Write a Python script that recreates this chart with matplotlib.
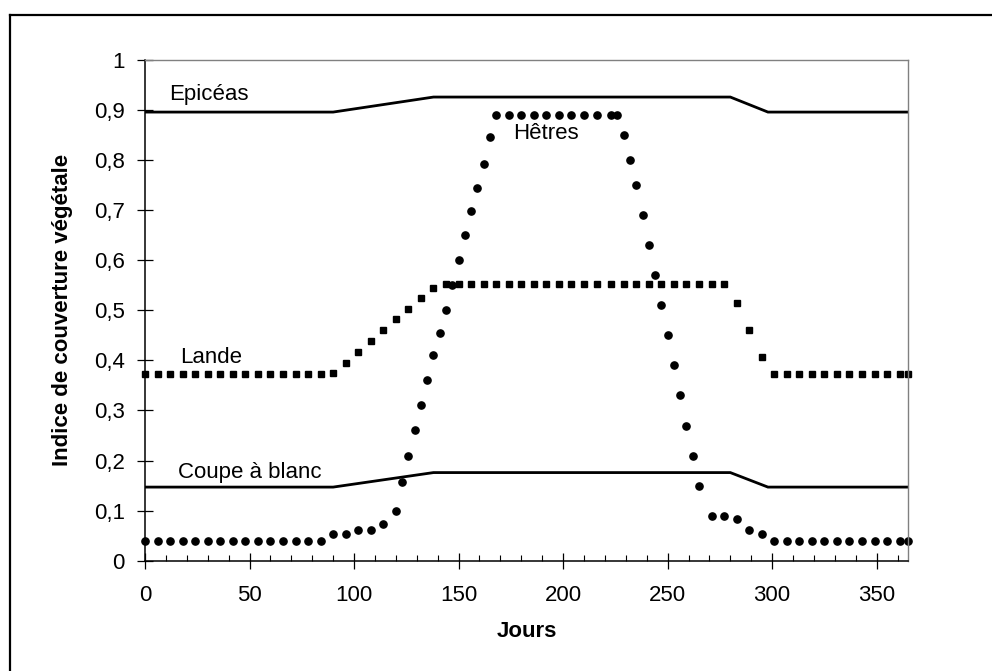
import matplotlib.pyplot as plt
from matplotlib.lines import Line2D
import numpy as np

plt.rcParams['font.family'] = ['Liberation Sans', 'DejaVu Sans']

# --- data (jours / indice) ---
days_epiceas = [0, 90, 138, 280, 298, 365]
epiceas = [0.896, 0.896, 0.926, 0.926, 0.896, 0.896]

days_coupe = [0, 90, 138, 280, 298, 365]
coupe = [0.147, 0.147, 0.176, 0.176, 0.147, 0.147]

days_lande = list(range(0, 217, 6)) + list(range(223, 362, 6)) + [365]
lande = ([0.372] * 15 + [0.375, 0.395, 0.417, 0.439, 0.460, 0.482, 0.502, 0.524, 0.545]
         + [0.552] * 23 + [0.514, 0.461, 0.407] + [0.372] * 12)

days_hetres = (list(range(0, 121, 6)) + list(range(123, 169, 3)) + list(range(174, 217, 6))
               + [223, 226] + list(range(229, 266, 3)) + list(range(271, 362, 6)) + [365])
hetres = ([0.04] * 15 + [0.053, 0.053, 0.061, 0.061, 0.073, 0.10]
          + [0.158, 0.21, 0.262, 0.31, 0.36, 0.41, 0.454, 0.50, 0.55, 0.60, 0.65, 0.698,
             0.744, 0.792, 0.846, 0.89]
          + [0.89] * 10
          + [0.85, 0.80, 0.75, 0.69, 0.63, 0.57, 0.51, 0.45, 0.39, 0.33, 0.27, 0.21, 0.15]
          + [0.09, 0.09, 0.083, 0.061, 0.053] + [0.04] * 12)

x_ticks = [0, 50, 100, 150, 200, 250, 300, 350]
y_ticks = [0, 0.1, 0.2, 0.3, 0.4, 0.5, 0.6, 0.7, 0.8, 0.9, 1]
y_labels = ['0', '0,1', '0,2', '0,3', '0,4', '0,5', '0,6', '0,7', '0,8', '0,9', '1']

fig = plt.figure(figsize=(9.92, 6.71), dpi=100)
ax = fig.add_axes([145 / 992, 1 - 560.7 / 671, (908 - 145) / 992, (560.7 - 60) / 671])

ax.plot(days_epiceas, epiceas, color='black', lw=2.0, solid_joinstyle='miter')
ax.plot(days_coupe, coupe, color='black', lw=2.0, solid_joinstyle='miter')
ax.plot(days_lande, lande, ls='none', marker='s', ms=4.8, color='black', clip_on=False)
ax.plot(days_hetres, hetres, ls='none', marker='o', ms=5.2, color='black', clip_on=False)

ax.set_xlim(0, 365)
ax.set_ylim(0, 1)
ax.set_xticks(x_ticks)
ax.set_xticks(np.arange(0, 366, 10), minor=True)
ax.set_yticks(y_ticks)
ax.set_yticklabels(y_labels)

ax.tick_params(which='major', direction='inout', length=11, width=0.9, labelsize=16, pad=9)
ax.tick_params(axis='x', which='major', pad=12)
ax.tick_params(which='minor', direction='in', length=4, width=0.8)

for s in ['top', 'right']:
    ax.spines[s].set_color('#808080')
    ax.spines[s].set_linewidth(1.0)
for s in ['left', 'bottom']:
    ax.spines[s].set_color('black')
    ax.spines[s].set_linewidth(1.1)

ax.set_xlabel('Jours', fontsize=16, fontweight='bold', labelpad=11)
ax.set_ylabel('Indice de couverture végétale', fontsize=16, fontweight='bold', labelpad=15)

ax.text(11.5, 0.920, 'Epicéas', fontsize=16, va='baseline')
ax.text(175.9, 0.842, 'Hêtres', fontsize=16, va='baseline')
ax.text(16.7, 0.395, 'Lande', fontsize=16, va='baseline')
ax.text(15.6, 0.1645, 'Coupe à blanc', fontsize=16, va='baseline')

# outer frame (only top and left edges visible)
fig.add_artist(Line2D([10 / 992, 1], [1 - 15 / 671] * 2, transform=fig.transFigure,
                      color='black', lw=1.6))
fig.add_artist(Line2D([10 / 992] * 2, [0, 1 - 15 / 671], transform=fig.transFigure,
                      color='black', lw=1.6))

fig.savefig('out.png', dpi=100)
